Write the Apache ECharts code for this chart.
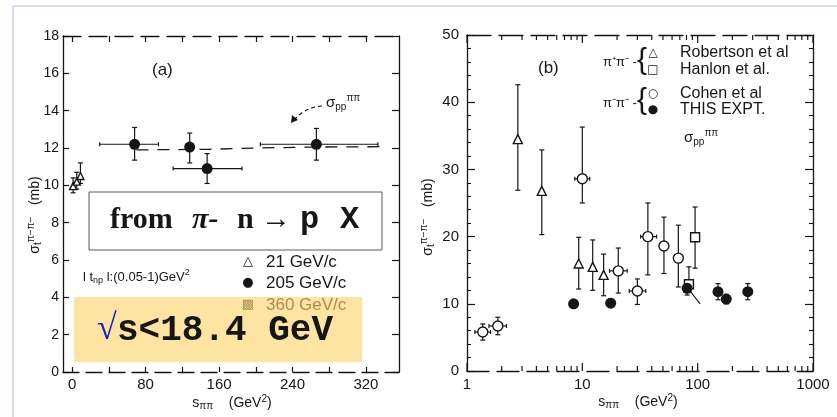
<!DOCTYPE html>
<html><head><meta charset="utf-8">
<script src="https://cdn.jsdelivr.net/npm/echarts@6/dist/echarts.min.js"></script>
<style>html,body{margin:0;padding:0;background:#fff}#c{width:837px;height:417px}</style>
</head><body><div id="c"></div>
<script>
// ---------- Panel (a) data ----------
const aLowS = [1, 5, 9];
const aLowSigma = [9.96, 10.2, 10.5];
const aLowErrLo = [9.6, 9.8, 10.1];
const aLowErrHi = [10.4, 10.7, 11.2];

const aS = [68, 128, 147, 266];
const aSigma = [12.2, 12.05, 10.9, 12.2];
const aErrLo = [11.35, 11.2, 10.1, 11.35];
const aErrHi = [13.1, 12.8, 11.7, 13.05];
const aXLo = [30, null, 110, 205];
const aXHi = [94, null, 185, 333];

const aCurveS = [70, 150, 200, 260, 335];
const aCurveSigma = [11.9, 11.93, 12.0, 12.05, 12.07];

const aXTickVals = [0, 40, 80, 120, 160, 200, 240, 280, 320];
const aXLabelVals = [0, 80, 160, 240, 320];

// ---------- Panel (b) data ----------
const robS = [2.76, 4.45, 9.3, 12.3, 15.3];
const robSigma = [34.5, 26.8, 16.0, 15.5, 14.3];
const robLo = [26.9, 20.3, 12.2, 12.0, 11.2];
const robHi = [42.6, 32.9, 19.9, 19.5, 17.4];

const hanS = [84, 95];
const hanSigma = [12.9, 19.9];
const hanLo = [11.8, 15.3];
const hanHi = [15.5, 24.4];

const cohS = [1.37, 1.85, 10, 20.5, 30, 37, 51, 68];
const cohSigma = [5.8, 6.7, 28.6, 14.9, 11.9, 20.0, 18.6, 16.8];
const cohLo = [4.6, 5.4, 25.0, 11.6, 9.9, 14.3, 14.5, 12.5];
const cohHi = [7.0, 8.0, 36.3, 18.3, 13.7, 25.0, 22.9, 21.7];
const cohXLo = [1.17, 1.55, 8.6, 17.2, 25.5, 32, null, null];
const cohXHi = [1.6, 2.2, 11.6, 24.5, 35.5, 44, null, null];

const expS = [8.4, 17.6, 81, 150, 177, 272];
const expSigma = [10.0, 10.1, 12.3, 11.8, 10.7, 11.8];
const expLo = [9.4, 9.5, 11.3, 10.6, 10.0, 10.6];
const expHi = [10.6, 10.7, 13.2, 13.0, 11.4, 13.0];

const bCurveS = [80, 105];
const bCurveSigma = [12.6, 10.0];

const bTickVals = [1,2,3,4,5,6,7,8,9,10,20,30,40,50,60,70,80,90,100,200,300,400,500,600,700,800,900,1000];

// ---------- chart ----------
const INK = '#161616';
const FONT = 'Liberation Sans, Arial, sans-serif';
const chart = echarts.init(document.getElementById('c'), null, {renderer: 'canvas'});

function ok(v) { return v !== null && v !== undefined && v !== '-' && !isNaN(v); }

function rows(x, y, lo, hi, xlo, xhi) {
  return x.map((v, i) => [v, y[i], lo[i], hi[i], xlo ? xlo[i] : null, xhi ? xhi[i] : null]);
}

function errSeries(xi, yi, data) {
  return {
    type: 'custom', xAxisIndex: xi, yAxisIndex: yi, z: 3, silent: true,
    data: data,
    encode: {x: 0, y: 1},
    renderItem: function (params, api) {
      const x = api.value(0), y = api.value(1);
      const st = {stroke: INK, lineWidth: 1.2};
      const ch = [];
      const ylo = api.value(2), yhi = api.value(3), xlo = api.value(4), xhi = api.value(5);
      if (ok(ylo) && ok(yhi)) {
        const p1 = api.coord([x, ylo]), p2 = api.coord([x, yhi]);
        ch.push({type: 'line', shape: {x1: p1[0], y1: p1[1], x2: p2[0], y2: p2[1]}, style: st});
        ch.push({type: 'line', shape: {x1: p1[0] - 2.5, y1: p1[1], x2: p1[0] + 2.5, y2: p1[1]}, style: st});
        ch.push({type: 'line', shape: {x1: p2[0] - 2.5, y1: p2[1], x2: p2[0] + 2.5, y2: p2[1]}, style: st});
      }
      if (ok(xlo) && ok(xhi)) {
        const q1 = api.coord([xlo, y]), q2 = api.coord([xhi, y]);
        ch.push({type: 'line', shape: {x1: q1[0], y1: q1[1], x2: q2[0], y2: q2[1]}, style: st});
        ch.push({type: 'line', shape: {x1: q1[0], y1: q1[1] - 2, x2: q1[0], y2: q1[1] + 2}, style: st});
        ch.push({type: 'line', shape: {x1: q2[0], y1: q2[1] - 2, x2: q2[0], y2: q2[1] + 2}, style: st});
      }
      return {type: 'group', children: ch};
    }
  };
}

function logTickSeries(xi, yi, yMin, yMax) {
  return {
    type: 'custom', xAxisIndex: xi, yAxisIndex: yi, z: 3, silent: true,
    data: bTickVals.map(v => [v, yMin]),
    encode: {x: 0, y: 1},
    renderItem: function (params, api) {
      const v = api.value(0);
      const lg = Math.log10(v);
      const major = Math.abs(lg - Math.round(lg)) < 1e-9;
      const len = major ? 8 : 5;
      const b = api.coord([v, yMin]), t = api.coord([v, yMax]);
      const st = {stroke: INK, lineWidth: 1.2};
      return {type: 'group', children: [
        {type: 'line', shape: {x1: b[0], y1: b[1], x2: b[0], y2: b[1] - len}, style: st},
        {type: 'line', shape: {x1: t[0], y1: t[1], x2: t[0], y2: t[1] + len}, style: st}
      ]};
    }
  };
}

function sym(xi, yi, xs, ys, symbol, size, filled) {
  return {
    type: 'scatter', xAxisIndex: xi, yAxisIndex: yi, z: 5, silent: true,
    symbol: symbol, symbolSize: size,
    itemStyle: filled ? {color: INK, opacity: 1} : {color: '#fff', borderColor: INK, borderWidth: 1.4, opacity: 1},
    data: xs.map((v, i) => [v, ys[i]])
  };
}

const axLine = (dash) => ({onZero: false, lineStyle: {color: INK, width: 1.3, type: dash || 'solid'}});
const lblStyle = {color: INK, fontFamily: FONT};

function T(x, y, text, o) {
  o = o || {};
  return {
    type: 'text', x: x, y: y, z: 50, rotation: o.rot || 0, silent: true,
    style: Object.assign({
      text: text, fill: o.fill || INK, fontSize: o.size || 14, fontFamily: o.family || FONT,
      fontWeight: o.weight || 'normal', fontStyle: o.style || 'normal',
      textAlign: o.align || 'left', textVerticalAlign: 'middle'
    }, o.rich ? {rich: o.rich} : {})
  };
}

const subSup = (size) => ({
  m: {fontSize: size, fontFamily: FONT, fill: INK},
  sb: {fontSize: Math.round(size * 0.68), fontFamily: FONT, fill: INK, padding: [Math.round(size * 0.5), 0, 0, 0]},
  sp: {fontSize: Math.round(size * 0.68), fontFamily: FONT, fill: INK, padding: [0, 0, Math.round(size * 0.6), 0]}
});

const option = {
  backgroundColor: '#fff',
  animation: false,
  grid: [
    {left: 63, top: 36, width: 336, height: 336},
    {left: 467, top: 35, width: 346, height: 336}
  ],
  xAxis: [
    {gridIndex: 0, type: 'value', min: -10, max: 356, position: 'bottom',
      axisLine: axLine([16, 7]),
      axisTick: {inside: true, length: 5, customValues: aXTickVals, lineStyle: {color: INK, width: 1.2}},
      axisLabel: Object.assign({customValues: aXLabelVals, fontSize: 15, margin: 5}, lblStyle),
      splitLine: {show: false}},
    {gridIndex: 0, type: 'value', min: -10, max: 356, position: 'top',
      axisLine: axLine([18, 8]),
      axisTick: {inside: true, length: 6, customValues: aXTickVals, lineStyle: {color: INK, width: 1.2}},
      axisLabel: {show: false}, splitLine: {show: false}},
    {gridIndex: 1, type: 'log', logBase: 10, min: 1, max: 1000, position: 'bottom',
      axisLine: axLine([22, 8]), axisTick: {show: false},
      axisLabel: Object.assign({fontSize: 15, margin: 6, formatter: v => String(Math.round(v))}, lblStyle),
      splitLine: {show: false}, minorSplitLine: {show: false}},
    {gridIndex: 1, type: 'log', logBase: 10, min: 1, max: 1000, position: 'top',
      axisLine: axLine([24, 8]), axisTick: {show: false}, axisLabel: {show: false},
      splitLine: {show: false}}
  ],
  yAxis: [
    {gridIndex: 0, type: 'value', min: 0, max: 18, interval: 2, position: 'left',
      axisLine: axLine(), axisTick: {inside: true, length: 6, lineStyle: {color: INK, width: 1.2}},
      axisLabel: Object.assign({fontSize: 14, margin: 4}, lblStyle), splitLine: {show: false}},
    {gridIndex: 0, type: 'value', min: 0, max: 18, interval: 2, position: 'right',
      axisLine: axLine(), axisTick: {inside: true, length: 7, lineStyle: {color: INK, width: 1.2}},
      axisLabel: {show: false}, splitLine: {show: false}},
    {gridIndex: 1, type: 'value', min: 0, max: 50, interval: 10, position: 'left',
      axisLine: axLine(), axisTick: {inside: true, length: 8, lineStyle: {color: INK, width: 1.2}},
      minorTick: {show: true, splitNumber: 5, length: 4, lineStyle: {color: INK, width: 1.1}},
      axisLabel: Object.assign({fontSize: 15, margin: 8}, lblStyle), splitLine: {show: false}},
    {gridIndex: 1, type: 'value', min: 0, max: 50, interval: 10, position: 'right',
      axisLine: axLine(), axisTick: {inside: true, length: 8, lineStyle: {color: INK, width: 1.2}},
      minorTick: {show: true, splitNumber: 5, length: 4, lineStyle: {color: INK, width: 1.1}},
      axisLabel: {show: false}, splitLine: {show: false}}
  ],
  series: [
    // panel (a)
    {type: 'line', xAxisIndex: 0, yAxisIndex: 0, z: 2, silent: true, symbol: 'none',
      lineStyle: {color: INK, width: 1.3, type: [12, 9]},
      data: aCurveS.map((v, i) => [v, aCurveSigma[i]])},
    errSeries(0, 0, rows(aLowS, aLowSigma, aLowErrLo, aLowErrHi)),
    errSeries(0, 0, rows(aS, aSigma, aErrLo, aErrHi, aXLo, aXHi)),
    sym(0, 0, aLowS, aLowSigma, 'triangle', 7, false),
    sym(0, 0, aS, aSigma, 'circle', 11, true),
    // panel (b)
    logTickSeries(2, 2, 0, 50),
    {type: 'line', xAxisIndex: 2, yAxisIndex: 2, z: 2, silent: true, symbol: 'none',
      lineStyle: {color: INK, width: 1.1},
      data: bCurveS.map((v, i) => [v, bCurveSigma[i]])},
    errSeries(2, 2, rows(robS, robSigma, robLo, robHi)),
    errSeries(2, 2, rows(hanS, hanSigma, hanLo, hanHi)),
    errSeries(2, 2, rows(cohS, cohSigma, cohLo, cohHi, cohXLo, cohXHi)),
    errSeries(2, 2, rows(expS, expSigma, expLo, expHi)),
    sym(2, 2, robS, robSigma, 'triangle', 9, false),
    sym(2, 2, hanS, hanSigma, 'rect', 9, false),
    sym(2, 2, cohS, cohSigma, 'circle', 10, false),
    sym(2, 2, expS, expSigma, 'circle', 11, true)
  ],
  graphic: [
    // page frame
    {type: 'line', z: 1, silent: true, shape: {x1: 13, y1: 6, x2: 837, y2: 6}, style: {stroke: '#c7d1f0', lineWidth: 1.5}},
    {type: 'line', z: 1, silent: true, shape: {x1: 13, y1: 6, x2: 13, y2: 417}, style: {stroke: '#c7d1f0', lineWidth: 1.5}},

    // panel (a) annotations
    T(152, 70, '(a)', {size: 17}),
    T(326, 103, '{m|σ}{sb|pp}{sp|ππ}', {rich: subSup(15)}),
    {type: 'bezierCurve', z: 50, silent: true,
      shape: {x1: 322, y1: 106, cpx1: 306, cpy1: 107, x2: 295, y2: 119},
      style: {stroke: INK, lineWidth: 1.2, lineDash: [4, 3], fill: null}},
    {type: 'polygon', z: 50, silent: true, shape: {points: [[291, 123], [292, 115], [298, 120]]}, style: {fill: INK}},
    T(248, 262, '△', {size: 13, align: 'center', family: 'DejaVu Sans'}),
    T(248, 283, '●', {size: 13, align: 'center', family: 'DejaVu Sans'}),
    T(248, 305, '▩', {size: 13, align: 'center', family: 'DejaVu Sans'}),
    T(266, 262, '21 GeV/c', {size: 17}),
    T(266, 283, '205 GeV/c', {size: 17}),
    T(266, 305, '360 GeV/c', {size: 17}),
    T(83, 277, '{m|l t}{sb|np}{m| l:(0.05-1)GeV}{sp|2}', {rich: subSup(13)}),
    T(232, 403, '{m|s}{sb|ππ}{m|    (GeV}{sp|2}{m|)}', {align: 'center', rich: subSup(14)}),
    T(35, 215, '{m|σ}{sb|t}{sp|π−π−}{m|   (mb)}', {align: 'center', rot: Math.PI / 2, rich: subSup(14)}),

    // panel (b) annotations
    T(538, 68, '(b)', {size: 17}),
    T(603, 62, 'π⁺π⁻ -', {size: 13}),
    T(637, 61, '{', {size: 30, family: 'Liberation Sans'}),
    T(653, 53, '△', {size: 12, align: 'center', family: 'DejaVu Sans'}),
    T(680, 53, 'Robertson et al', {size: 16}),
    T(653, 70, '□', {size: 12, align: 'center', family: 'DejaVu Sans'}),
    T(680, 70, 'Hanlon et al.', {size: 16}),
    T(603, 103, 'π⁻π⁻ -', {size: 13}),
    T(637, 101, '{', {size: 30, family: 'Liberation Sans'}),
    T(653, 94, '○', {size: 12, align: 'center', family: 'DejaVu Sans'}),
    T(680, 94, 'Cohen et al', {size: 16}),
    T(653, 110, '●', {size: 12, align: 'center', family: 'DejaVu Sans'}),
    T(680, 110, 'THIS EXPT.', {size: 16}),
    T(684, 138, '{m|σ}{sb|pp}{sp|ππ}', {rich: subSup(15)}),
    T(638, 402, '{m|s}{sb|ππ}{m|    (GeV}{sp|2}{m|)}', {align: 'center', rich: subSup(14)}),
    T(428, 217, '{m|σ}{sb|t}{sp|π−π−}{m|   (mb)}', {align: 'center', rot: Math.PI / 2, rich: subSup(14)}),

    // overlay boxes
    {type: 'rect', z: 60, silent: true, shape: {x: 89, y: 192, width: 293, height: 58},
      style: {fill: '#fff', stroke: '#5a5a5a', lineWidth: 1}},
    Object.assign(T(110, 220, 'from', {size: 30, weight: 'bold', family: 'Liberation Serif, Times New Roman, serif'}), {z: 61}),
    Object.assign(T(192, 220, 'π-', {size: 30, weight: 'bold', style: 'italic', family: 'Liberation Serif, Times New Roman, serif'}), {z: 61}),
    Object.assign(T(237, 220, 'n', {size: 30, weight: 'bold', family: 'Liberation Serif, Times New Roman, serif'}), {z: 61}),
    Object.assign(T(261, 220, '→', {size: 30, family: 'Liberation Serif, Times New Roman, serif'}), {z: 61}),
    Object.assign(T(300, 220, 'p', {size: 32, weight: 'bold', family: 'Liberation Mono, Courier New, monospace'}), {z: 61}),
    Object.assign(T(340, 220, 'X', {size: 32, weight: 'bold', family: 'Liberation Mono, Courier New, monospace'}), {z: 61}),

    {type: 'rect', z: 60, silent: true, shape: {x: 74, y: 297, width: 288, height: 65},
      style: {fill: 'rgba(252,212,105,0.62)'}},
    Object.assign(T(97, 330, '√', {size: 36, fill: '#1c1cc8', family: 'Liberation Serif, Times New Roman, serif'}), {z: 61}),
    Object.assign(T(117, 331, 's<18.4 GeV', {size: 36, weight: 'bold', family: 'Liberation Mono, Courier New, monospace'}), {z: 61})
  ]
};
chart.setOption(option);
</script>
</body></html>
